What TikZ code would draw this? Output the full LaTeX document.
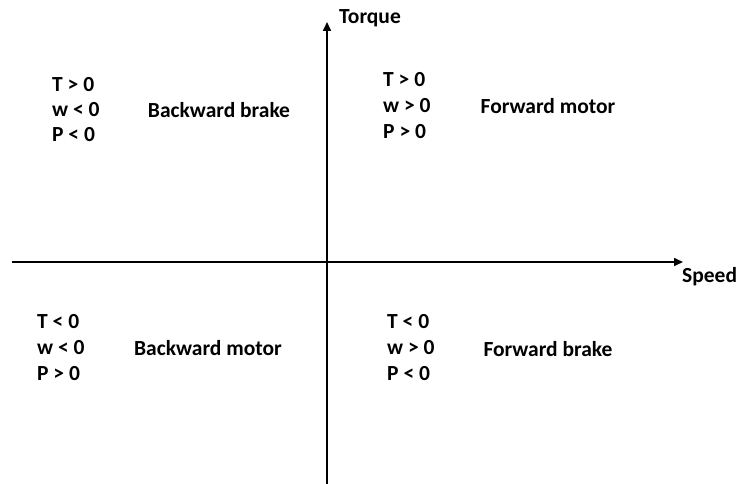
\documentclass[tikz,border=0pt]{standalone}
\usepackage{fontspec}
\setmainfont{Carlito}
\usetikzlibrary{positioning, arrows.meta}

\begin{document}
\begin{tikzpicture}[x=1pt, y=-1pt,
  lbl/.style={font=\bfseries\fontsize{21.5}{25}\selectfont, inner sep=0pt},
  cond/.style={lbl, anchor=west},
  axis/.style={line width=1.6pt, -{Triangle[length=9pt, width=8pt]}}]
\useasboundingbox (0,0) rectangle (739,484);

% --- axes ---
\coordinate (xs) at (12,262);
\coordinate (xe) at (683,262);
\coordinate (ys) at (327,484);
\coordinate (ye) at (327,22);
\draw[axis] (xs) -- (xe);
\draw[axis] (ys) -- (ye);
\node[lbl, anchor=west] (torque) at (339,18) {Torque};
\node[lbl, anchor=west] (speed) at (682,277) {Speed};

% --- quadrant I ---
\node[cond] (t1) at (383,80) {T > 0};
\node[cond] (w1) at (383,106) {w > 0};
\node[cond] (p1) at (383,132) {P > 0};
\node[lbl] (q1) at (548,106) {Forward motor};

% --- quadrant II ---
\node[cond] (t2) at (52,85) {T > 0};
\node[cond] (w2) at (52,110) {w < 0};
\node[cond] (p2) at (52,135) {P < 0};
\node[lbl] (q2) at (219,110) {Backward brake};

% --- quadrant III ---
\node[cond] (t3) at (37,322) {T < 0};
\node[cond] (w3) at (37,348) {w < 0};
\node[cond] (p3) at (37,374) {P > 0};
\node[lbl] (q3) at (208,348) {Backward motor};

% --- quadrant IV ---
\node[cond] (t4) at (387,322) {T < 0};
\node[cond] (w4) at (387,348) {w > 0};
\node[cond] (p4) at (387,374) {P < 0};
\node[lbl] (q4) at (548,349) {Forward brake};
\end{tikzpicture}
\end{document}
